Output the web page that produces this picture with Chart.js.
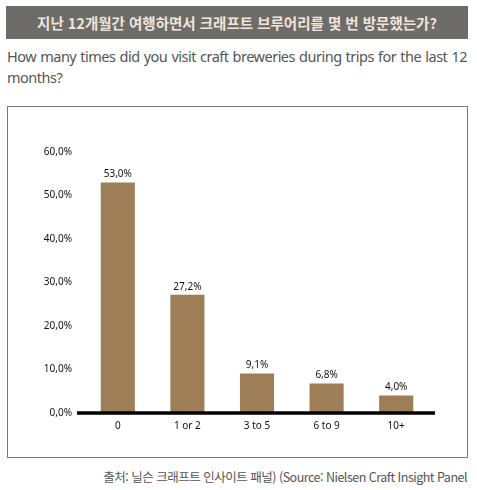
<!DOCTYPE html>
<html lang="ko">
<head>
<meta charset="utf-8">
<title>Craft brewery visits</title>
<script src="https://cdn.jsdelivr.net/npm/chart.js"></script>
<style>
  html, body { margin: 0; padding: 0; background: #fff; }
  body { width: 477px; height: 490px; position: relative; overflow: hidden; font-family: "Noto Sans", sans-serif; }
  .title-bar { position: absolute; left: 6px; top: 6px; width: 462px; height: 33px; background: #6e6b6b;
    color: #efe6d8; font: bold 14.5px "Noto Sans CJK KR", sans-serif; text-align: center; line-height: 33px; }
  .sub { position: absolute; left: 7px; color: #555; font-size: 14.5px; letter-spacing: -0.5px; white-space: nowrap; }
  .sub1 { top: 46px; }
  .sub2 { top: 67px; }
  .box { position: absolute; left: 7px; top: 106px; width: 459px; height: 350px; border: 1px solid #777; }
  .source { position: absolute; right: 10px; top: 467px; color: #555; font: 12.5px "Noto Sans CJK KR", sans-serif; letter-spacing: -0.5px; }
  canvas { position: absolute; left: 0; top: 0; }
</style>
</head>
<body>
<div class="title-bar">지난 12개월간 여행하면서 크래프트 브루어리를 몇 번 방문했는가?</div>
<div class="sub sub1" id="sub1">How many times did you visit craft breweries during trips for the last 12</div>
<div class="sub sub2">months?</div>
<div class="box"></div>
<div class="source">출처: 닐슨 크래프트 인사이트 패널) (Source: Nielsen Craft Insight Panel</div>
<canvas id="chart" width="477" height="490"></canvas>

<script>
  const categories = ['0', '1 or 2', '3 to 5', '6 to 9', '10+'];
  const shares = [53.0, 27.2, 9.1, 6.8, 4.0];
  const yTicks = [0, 10, 20, 30, 40, 50, 60];

  // the first subtitle line is justified to the full width
  const sub1 = document.getElementById('sub1');
  const gaps = sub1.textContent.split(' ').length - 1;
  sub1.style.wordSpacing = ((460 - sub1.getBoundingClientRect().width) / gaps) + 'px';

  // comma as decimal mark, like the original
  const pct = v => v.toFixed(1).replace('.', ',') + '%';

  const barLabels = {
    id: 'barLabels',
    afterDatasetsDraw(chart) {
      const ctx = chart.ctx;
      const meta = chart.getDatasetMeta(0);
      ctx.save();
      ctx.font = '10px "Noto Sans", sans-serif';
      ctx.fillStyle = '#111';
      ctx.textAlign = 'center';
      ctx.textBaseline = 'bottom';
      meta.data.forEach((bar, i) => {
        ctx.fillText(pct(shares[i]), bar.x, bar.y - 3);
      });
      ctx.restore();
    }
  };

  // heavy baseline that runs a little past the bars on both sides
  const baseLine = {
    id: 'baseLine',
    afterDatasetsDraw(chart) {
      const { ctx, chartArea, scales } = chart;
      const y = scales.y.getPixelForValue(0);
      ctx.save();
      ctx.strokeStyle = '#000';
      ctx.lineWidth = 3.5;
      ctx.beginPath();
      ctx.moveTo(chartArea.left - 6, y);
      ctx.lineTo(chartArea.right + 4, y);
      ctx.stroke();
      ctx.restore();
    }
  };

  new Chart(document.getElementById('chart'), {
    type: 'bar',
    data: {
      labels: categories,
      datasets: [{
        data: shares,
        backgroundColor: '#9d7e56',
        barPercentage: 0.49,
        categoryPercentage: 1
      }]
    },
    options: {
      responsive: false,
      animation: false,
      layout: { padding: { left: 23, right: 46, top: 152, bottom: 47 } },
      plugins: { legend: { display: false }, tooltip: { enabled: false } },
      scales: {
        x: {
          grid: { display: false, drawTicks: false },
          border: { display: false },
          ticks: { color: '#111', font: { family: 'Noto Sans', size: 10 }, padding: 7 },
          afterFit(scale) { scale.height = 30; }
        },
        y: {
          min: 0,
          max: 60,
          afterBuildTicks(scale) { scale.ticks = yTicks.map(v => ({ value: v })); },
          grid: { display: false, drawTicks: false },
          border: { display: false },
          ticks: { color: '#111', font: { family: 'Noto Sans', size: 10 }, padding: 11, callback: v => pct(v) },
          afterFit(scale) { scale.width = 60; }
        }
      }
    },
    plugins: [barLabels, baseLine]
  });
</script>
</body>
</html>
